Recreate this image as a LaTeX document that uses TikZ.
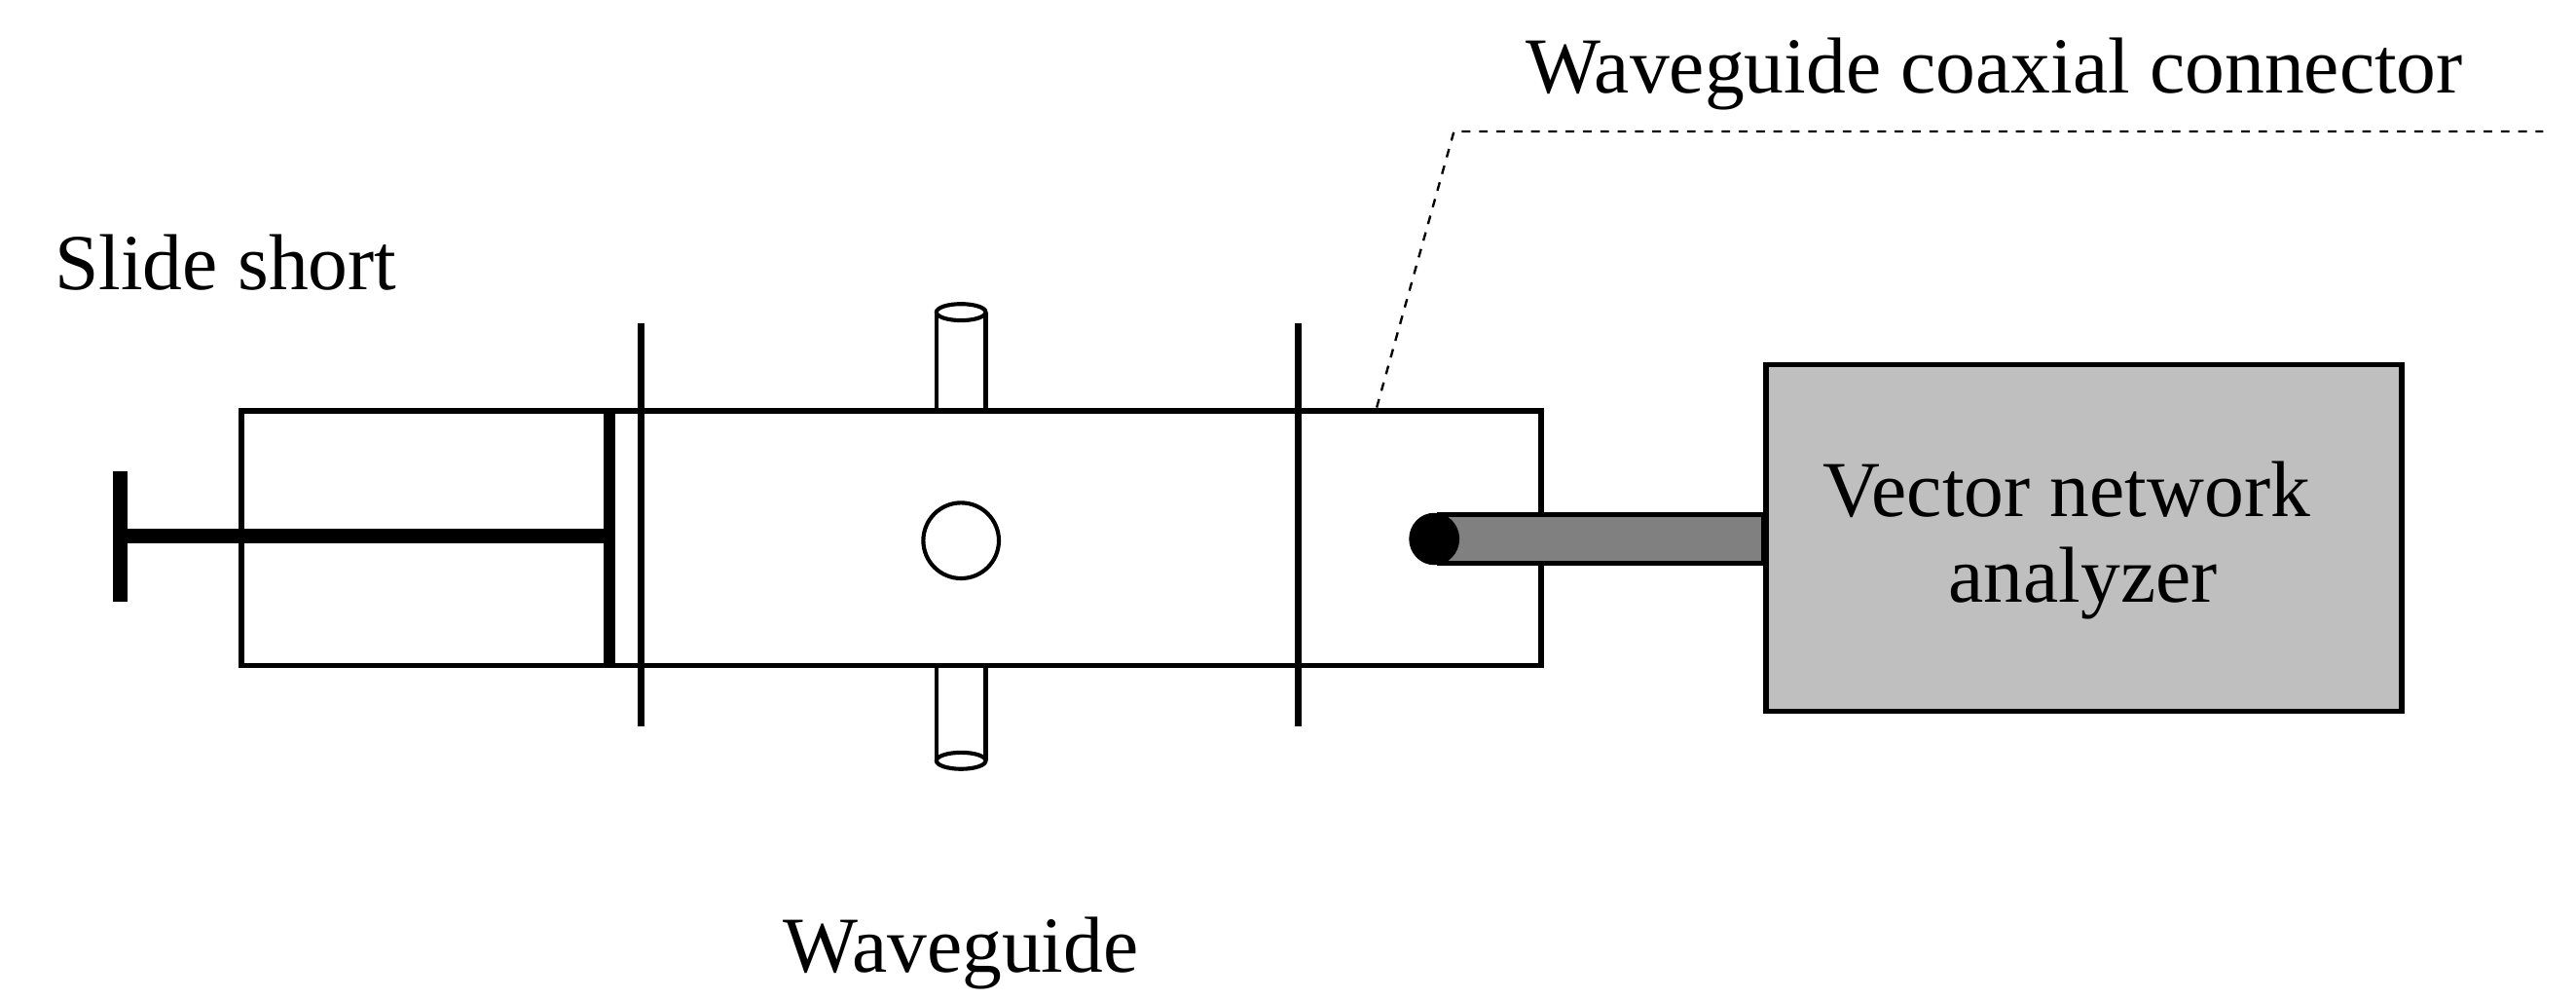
\documentclass[tikz,border=0pt]{standalone}
\usepackage{fontspec}
\setmainfont{Liberation Serif}
\usetikzlibrary{shapes.geometric}
\begin{document}
\begin{tikzpicture}[x=0.02cm,y=-0.02cm,
  lbl/.style={font=\fontsize{27.5}{32}\selectfont, inner sep=0pt},
  ln/.style={line width=2.4pt}]
\useasboundingbox (0,0) rectangle (1568,608);
% waveguide body
\node[draw, line width=1.8pt, minimum width=791*0.02cm, minimum height=155*0.02cm, inner sep=0pt] (wg) at (542.5,327.5) {};
% posts
\draw[line width=1.4pt] (570,190) -- (570,250) (600,250) -- (600,190);
\draw[line width=1.4pt, fill=white] (585,190) ellipse (15 and 5);
\draw[line width=1.4pt] (570,405) -- (570,463) (600,405) -- (600,463);
\draw[line width=1.4pt, fill=white] (585,463) ellipse (15 and 5);
% hole
\node[draw, circle, line width=1.4pt, minimum size=46*0.02cm, inner sep=0pt] (hole) at (585,329) {};
% flanges
\coordinate (f1t) at (390,197); \coordinate (f1b) at (390,442);
\coordinate (f2t) at (790,197); \coordinate (f2b) at (790,442);
\draw[ln] (f1t) -- (f1b);
\draw[ln] (f2t) -- (f2b);
% slide short plunger
\coordinate (tt) at (73,287); \coordinate (tb) at (73,366);
\coordinate (rs) at (73,326); \coordinate (re) at (370,326);
\draw[line width=5pt] (tt) -- (tb);
\draw[line width=5pt] (rs) -- (re);
\draw[line width=4pt] (371,250) -- (371,405);
% VNA
\node[draw, line width=1.8pt, fill=black!25, minimum width=387*0.02cm, minimum height=211*0.02cm, inner sep=0pt] (vna) at (1268.5,327.5) {};
\node[lbl] (vt1) at (1258,298) {Vector network};
\node[lbl] (vt2) at (1268,355) {analyzer};
% probe
\draw[line width=1.8pt, fill=black!50] (876,313) rectangle (vna.west |- 0,343);
\node[draw, fill=black, ellipse, minimum width=30*0.02cm, minimum height=31*0.02cm, inner sep=0pt] (tip) at (873,328) {};
% leader
\coordinate (l0) at (838,248); \coordinate (l1) at (885,80); \coordinate (l2) at (1548,80);
\draw[dashed, line width=0.8pt] (l0) -- (l1) -- (l2);
% labels
\node[lbl] (wcc) at (1214,45) {Waveguide coaxial connector};
\node[lbl, anchor=west] (ss) at (33,160) {Slide short};
\node[lbl] (wgl) at (585,580) {Waveguide};
\end{tikzpicture}
\end{document}
